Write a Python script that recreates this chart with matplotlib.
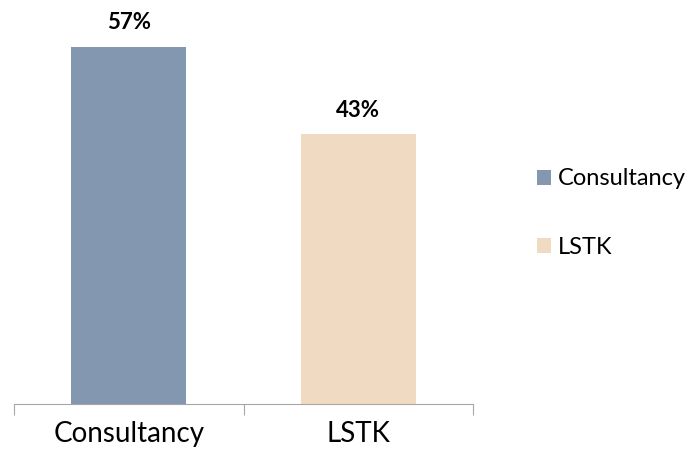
import matplotlib.pyplot as plt
from matplotlib.patches import Patch

categories = ["Consultancy", "LSTK"]
shares = [57, 43]
labels = ["57%", "43%"]
colors = ["#8497B0", "#F0DBC2"]

plt.rcParams['font.family'] = ['Lato', 'DejaVu Sans']

fig = plt.figure(figsize=(6.97, 4.49), dpi=100)
ax = fig.add_axes([14 / 697, 45 / 449, 459 / 697, 375 / 449])

x = list(range(len(categories)))
ax.bar(x, shares, width=0.5, color=colors)
for i in x:
    ax.annotate(labels[i], (i, shares[i]), xytext=(0, 24), textcoords='offset pixels',
                ha='center', va='center', fontsize=16, fontweight='bold')

ax.set_xlim(-0.5, len(categories) - 0.5)
ax.set_ylim(0, 59.8)
for s in ['top', 'right', 'left']:
    ax.spines[s].set_visible(False)
ax.spines['bottom'].set_color('#A6A6A6')
ax.set_yticks([])

ax.set_xticks([-0.5, 0.5, 1.5])
ax.set_xticklabels([])
ax.tick_params(axis='x', which='major', length=8, color='#A6A6A6', direction='out')
ax.set_xticks(x, minor=True)
ax.set_xticklabels(categories, minor=True, fontsize=20)
ax.tick_params(axis='x', which='minor', length=0, pad=12)

handles = [Patch(facecolor=c, label=n) for c, n in zip(colors, categories)]
fig.legend(handles=handles, loc='center left', bbox_to_anchor=(537 / 697, 1 - 213 / 449),
           frameon=False, fontsize=17, labelspacing=2.0, handlelength=0.6, handleheight=0.6,
           handletextpad=0.3, borderpad=0, borderaxespad=0)

fig.savefig('out.png', dpi=100)
